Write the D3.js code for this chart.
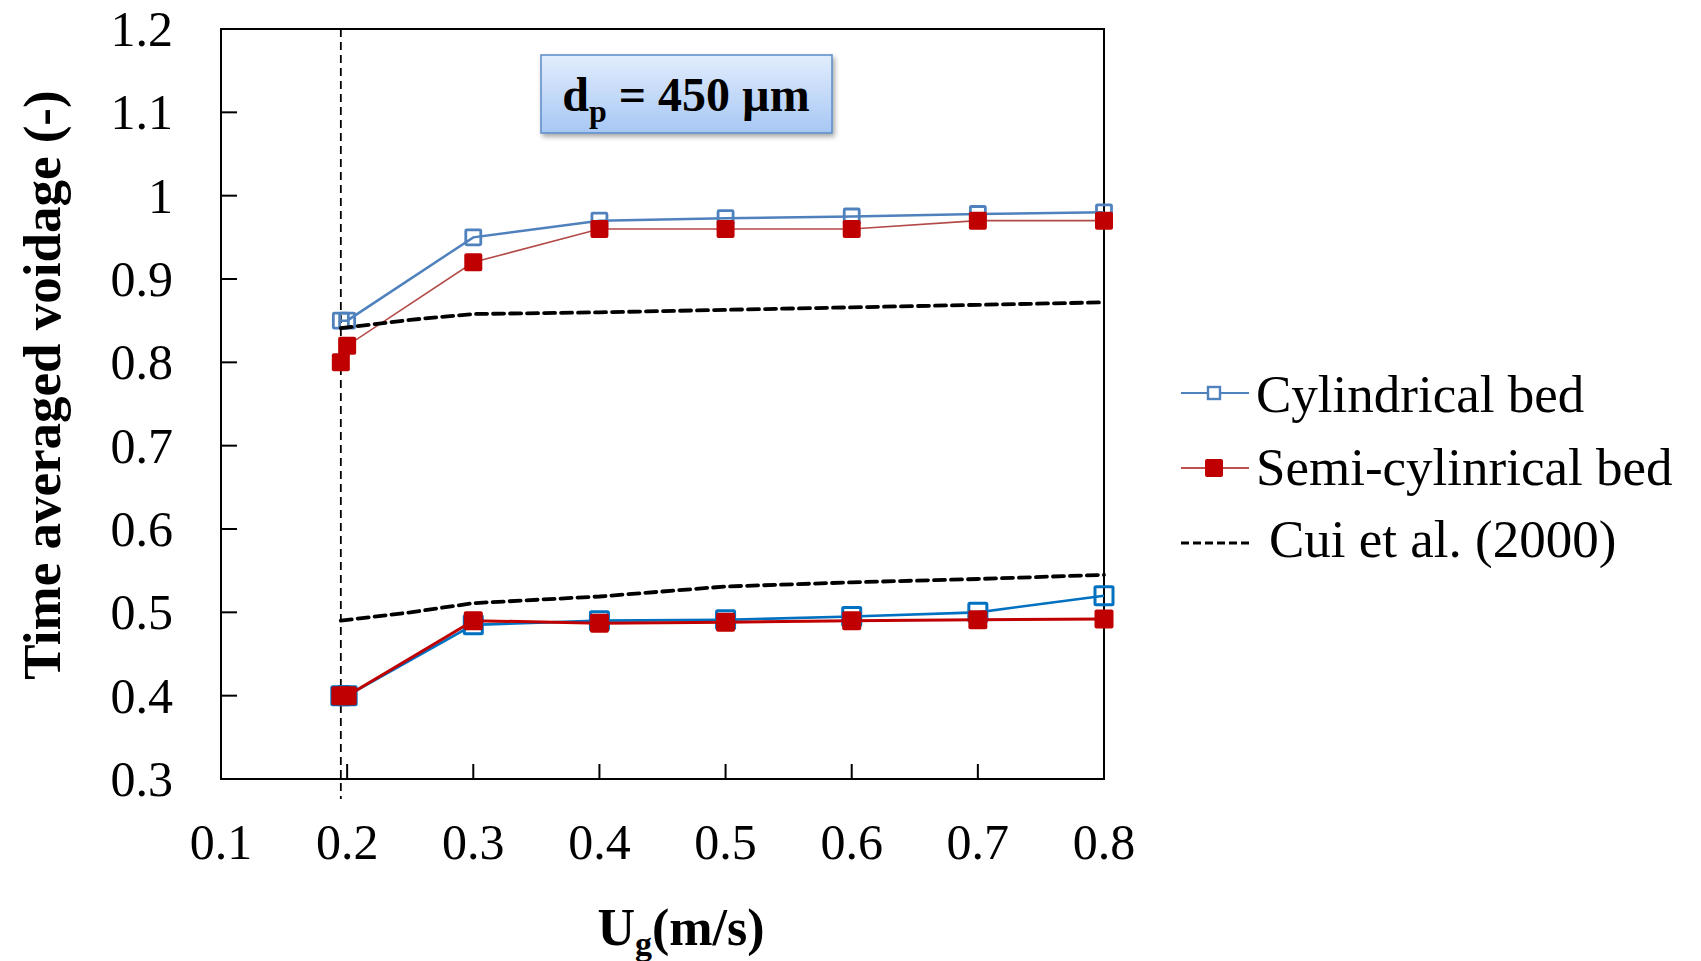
<!DOCTYPE html>
<html>
<head>
<meta charset="utf-8">
<script src="https://cdn.jsdelivr.net/npm/d3@7"></script>
<style>
  body { margin: 0; background: #fff; }
  svg text { font-family: "Liberation Serif", "Times New Roman", serif; }
</style>
</head>
<body>
<div id="chart"></div>
<script>
// gas velocity (m/s) for the measured points
const ugPoints = [0.195, 0.2, 0.3, 0.4, 0.5, 0.6, 0.7, 0.8];
// upper branch
const cylTop = [0.85, 0.85, 0.95, 0.97, 0.973, 0.975, 0.978, 0.98];
const semiTop = [0.8, 0.82, 0.92, 0.96, 0.96, 0.96, 0.97, 0.97];
// lower branch
const cylBottom = [0.4, 0.4, 0.485, 0.49, 0.491, 0.495, 0.5, 0.52];
const semiBottom = [0.4, 0.4, 0.49, 0.487, 0.488, 0.49, 0.491, 0.492];
// Cui et al. (2000)
const ugCui = [0.195, 0.25, 0.3, 0.4, 0.5, 0.6, 0.7, 0.8];
const cuiTop = [0.841, 0.851, 0.858, 0.86, 0.863, 0.866, 0.869, 0.872];
const cuiBottom = [0.49, 0.5, 0.511, 0.519, 0.531, 0.536, 0.54, 0.545];
const umf = 0.195;

const xTicks = [0.1, 0.2, 0.3, 0.4, 0.5, 0.6, 0.7, 0.8];
const yTicks = [0.3, 0.4, 0.5, 0.6, 0.7, 0.8, 0.9, 1.0, 1.1, 1.2];

const W = 1701, H = 961;
const PLOT = { left: 221, right: 1104, top: 29, bottom: 779 };

const svg = d3.select("#chart").append("svg")
  .attr("width", W).attr("height", H);

const defs = svg.append("defs");
const grad = defs.append("linearGradient").attr("id", "boxGrad")
  .attr("x1", 0).attr("y1", 0).attr("x2", 0).attr("y2", 1);
grad.append("stop").attr("offset", "0%").attr("stop-color", "#e2edfd");
grad.append("stop").attr("offset", "100%").attr("stop-color", "#a7c7f4");
const shadow = defs.append("filter").attr("id", "shadow")
  .attr("x", "-10%").attr("y", "-10%").attr("width", "130%").attr("height", "140%");
shadow.append("feDropShadow").attr("dx", 2).attr("dy", 3)
  .attr("stdDeviation", 2.5).attr("flood-color", "#000").attr("flood-opacity", 0.35);

const x = d3.scaleLinear().domain([0.1, 0.8]).range([PLOT.left, PLOT.right]);
const y = d3.scaleLinear().domain([0.3, 1.2]).range([PLOT.bottom, PLOT.top]);

// frame
svg.append("rect")
  .attr("x", PLOT.left).attr("y", PLOT.top)
  .attr("width", PLOT.right - PLOT.left).attr("height", PLOT.bottom - PLOT.top)
  .attr("fill", "none").attr("stroke", "#000").attr("stroke-width", 2);

// inward ticks
svg.append("g").selectAll("line").data(yTicks.slice(1, -1)).join("line")
  .attr("x1", PLOT.left).attr("x2", PLOT.left + 16)
  .attr("y1", (d) => y(d)).attr("y2", (d) => y(d))
  .attr("stroke", "#000").attr("stroke-width", 2);
svg.append("g").selectAll("line").data(xTicks.slice(1, -1)).join("line")
  .attr("x1", (d) => x(d)).attr("x2", (d) => x(d))
  .attr("y1", PLOT.bottom).attr("y2", PLOT.bottom - 15)
  .attr("stroke", "#000").attr("stroke-width", 2);

// tick labels
svg.append("g").selectAll("text").data(yTicks).join("text")
  .attr("x", 173).attr("y", (d) => y(d) + 17)
  .attr("text-anchor", "end").attr("font-size", 50)
  .text((d) => (d === 1 ? "1" : d3.format(".1f")(d)));
svg.append("g").selectAll("text").data(xTicks).join("text")
  .attr("x", (d) => x(d)).attr("y", 859)
  .attr("text-anchor", "middle").attr("font-size", 50)
  .text((d) => d3.format(".1f")(d));

// axis titles
svg.append("text")
  .attr("transform", "translate(60,385) rotate(-90)")
  .attr("text-anchor", "middle").attr("font-size", 53).attr("font-weight", "bold")
  .text("Time averaged voidage (-)");
const xt = svg.append("text")
  .attr("x", 681).attr("y", 945)
  .attr("text-anchor", "middle").attr("font-size", 52).attr("font-weight", "bold");
xt.append("tspan").text("U");
xt.append("tspan").attr("font-size", 34).attr("dy", 10).text("g");
xt.append("tspan").attr("dy", -10).text("(m/s)");

// minimum fluidization line
svg.append("line")
  .attr("x1", x(umf)).attr("x2", x(umf))
  .attr("y1", PLOT.top).attr("y2", 799)
  .attr("stroke", "#000").attr("stroke-width", 1.8)
  .attr("stroke-dasharray", "8,5");

const line = d3.line().x((d) => x(d[0])).y((d) => y(d[1]));
const zip = (xs, ys) => xs.map((v, i) => [v, ys[i]]);

function series(data, opt) {
  svg.append("path").attr("d", line(data))
    .attr("fill", "none").attr("stroke", opt.line).attr("stroke-width", opt.lw);
  svg.append("g").selectAll("rect").data(data).join("rect")
    .attr("x", (d) => x(d[0]) - opt.size / 2)
    .attr("y", (d) => y(d[1]) - opt.size / 2)
    .attr("width", opt.size).attr("height", opt.size)
    .attr("rx", opt.filled ? 2 : 1)
    .attr("fill", opt.filled ? opt.marker : "#fff")
    .attr("fill-opacity", opt.filled ? 1 : 0)
    .attr("stroke", opt.marker).attr("stroke-width", opt.filled ? 0 : opt.msw);
}

series(zip(ugPoints, cylTop), { line: "#4f81bd", lw: 2.5, marker: "#4f81bd", size: 15, msw: 2.8, filled: false });
series(zip(ugPoints, semiTop), { line: "#b24a47", lw: 1.6, marker: "#c00000", size: 18, filled: true });
series(zip(ugPoints, cylBottom), { line: "#0070c0", lw: 2.6, marker: "#0070c0", size: 18, msw: 3, filled: false });
series(zip(ugPoints, semiBottom), { line: "#c00000", lw: 3, marker: "#c00000", size: 19, filled: true });

// Cui et al. dashed curves
[cuiTop, cuiBottom].forEach((vals) => {
  svg.append("path").attr("d", line(zip(ugCui, vals)))
    .attr("fill", "none").attr("stroke", "#000").attr("stroke-width", 3.8)
    .attr("stroke-dasharray", "11,6").attr("stroke-linecap", "round");
});

// annotation box
svg.append("rect")
  .attr("x", 541).attr("y", 55).attr("width", 291).attr("height", 78)
  .attr("fill", "url(#boxGrad)").attr("stroke", "#5b8bc9").attr("stroke-width", 1.5)
  .attr("filter", "url(#shadow)");
const bt = svg.append("text")
  .attr("x", 686).attr("y", 111)
  .attr("text-anchor", "middle").attr("font-size", 48).attr("font-weight", "bold");
bt.append("tspan").text("d");
bt.append("tspan").attr("font-size", 32).attr("dy", 11).text("p");
bt.append("tspan").attr("dy", -11).text(" = 450 \u00b5m");

// legend
const legend = [
  { label: "Cylindrical bed", type: "cyl", ly: 393, ty: 412, tx: 1256 },
  { label: "Semi-cylinrical bed", type: "semi", ly: 468, ty: 485, tx: 1256 },
  { label: "Cui et al. (2000)", type: "cui", ly: 543, ty: 557, tx: 1269 },
];
const lg = svg.append("g").selectAll("g").data(legend).join("g");
lg.append("line")
  .attr("x1", 1181).attr("x2", (d) => (d.type === "cui" ? 1250 : 1249))
  .attr("y1", (d) => d.ly).attr("y2", (d) => d.ly)
  .attr("stroke", (d) => (d.type === "cyl" ? "#4f81bd" : d.type === "semi" ? "#c0504d" : "#000"))
  .attr("stroke-width", (d) => (d.type === "cui" ? 3 : 2))
  .attr("stroke-dasharray", (d) => (d.type === "cui" ? "8,4" : null));
lg.filter((d) => d.type === "cyl").append("rect")
  .attr("x", 1208).attr("y", (d) => d.ly - 6).attr("width", 12).attr("height", 12)
  .attr("fill", "#fff").attr("stroke", "#4f81bd").attr("stroke-width", 2.4);
lg.filter((d) => d.type === "semi").append("rect")
  .attr("x", 1205).attr("y", (d) => d.ly - 9).attr("width", 18).attr("height", 18)
  .attr("rx", 2).attr("fill", "#c00000");
lg.append("text")
  .attr("x", (d) => d.tx).attr("y", (d) => d.ty)
  .attr("font-size", 53)
  .text((d) => d.label);
</script>
</body>
</html>
